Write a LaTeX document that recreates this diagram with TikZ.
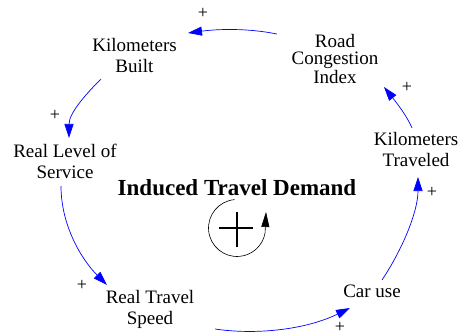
\documentclass[tikz,border=0pt]{standalone}
\usepackage{fontspec}
\setmainfont{Liberation Serif}
\newfontfamily\lserif{Liberation Serif}
\usetikzlibrary{arrows.meta,calc}
\begin{document}
\begin{tikzpicture}[x=1pt,y=1pt,
  lbl/.style={align=center,font=\lserif\fontsize{19}{21}\selectfont,inner sep=0pt},
  lbltight/.style={align=center,font=\lserif\fontsize{19}{17}\selectfont,inner sep=0pt},
  link/.style={draw=blue,line width=0.7pt,-{Triangle[length=14pt,width=9pt]}},
  pol/.style={font=\lserif\fontsize{18}{18}\selectfont,inner sep=0pt},
  title/.style={font=\lserif\fontsize{23}{25}\selectfont\bfseries,inner sep=0pt}]
\useasboundingbox (0,0) rectangle (460,335);
% variables
\node[lbl] (kmb) at (134.5,279) {Kilometers\\Built};
\node[lbltight] (rci) at (335,276) {Road\\Congestion\\Index};
\node[lbl] (kmt) at (416,185) {Kilometers\\Traveled};
\node[lbl] (rls) at (65,174) {Real Level of\\Service};
\node[lbl] (rts) at (150,26) {Real Travel\\Speed};
\node[lbl] (car) at (372,43.5) {Car use};
\node[title] (ttl) at (237,147) {Induced Travel Demand};
% links
\draw[link] ($(rci)+(-58,25)$) .. controls +(-30,6) and +(30,4) .. ($(kmb)+(53.5,23)$);
\draw[link] ($(kmb)+(-33.5,-23)$) .. controls +(-15,-15) and +(0,25) .. ($(rls)+(4,23)$);
\draw[link] ($(rls)+(-4,-25)$) .. controls +(0,-40) and +(-25,25) .. ($(rts)+(-43,24)$);
\draw[link] ($(rts)+(65,-20)$) .. controls +(40,-6) and +(-45,-22) .. ($(car)+(-22,-16.5)$);
\draw[link] ($(car)+(10,11.5)$) .. controls +(20,30) and +(0,-35) .. ($(kmt)+(2,-27)$);
\draw[link] ($(kmt)+(-4,22)$) .. controls +(-5,12) and +(12,-15) .. ($(rci)+(49,-28)$);
% polarities
\node[pol] (p1) at (203,322) {+};
\node[pol] (p2) at (55,220) {+};
\node[pol] (p3) at (82,50) {+};
\node[pol] (p4) at (340,8) {+};
\node[pol] (p5) at (432,143) {+};
\node[pol] (p6) at (407,248) {+};
% loop symbol
\coordinate (lc) at (237,107);
\draw[line width=0.6pt] ($(lc)+(95:28.5)$) arc[start angle=95,end angle=350,radius=28.5];
\draw[line width=0.6pt,-{Triangle[length=15pt,width=8pt]}] ($(lc)+(350:28.5)$) -- ($(lc)+(29,16)$);
\draw[line width=2pt] ($(lc)+(-18,0)$) -- ($(lc)+(16,0)$);
\draw[line width=2pt] ($(lc)+(0,16)$) -- ($(lc)+(0,-19)$);
\end{tikzpicture}
\end{document}
